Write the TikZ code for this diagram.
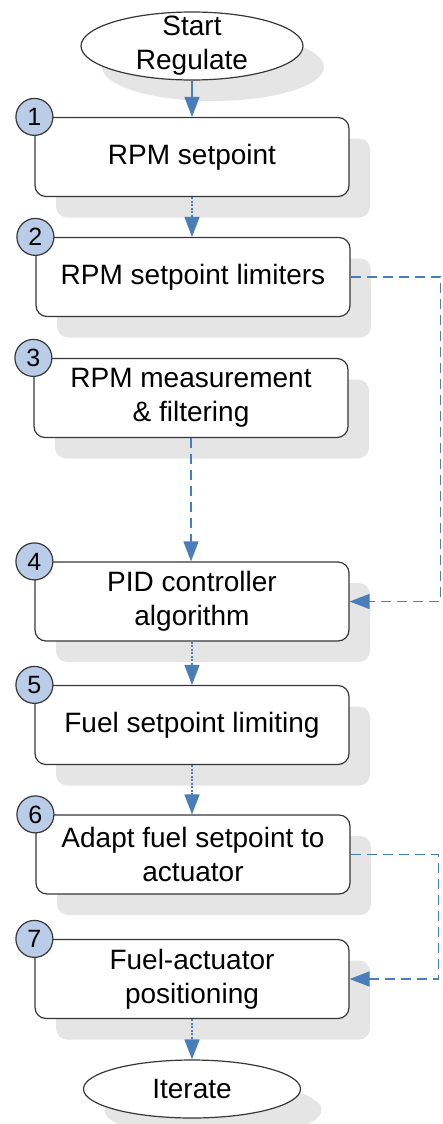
\documentclass[tikz,border=0pt]{standalone}
\usepackage{fontspec}
\setmainfont{Liberation Sans}
\usetikzlibrary{shapes.geometric,shadows,arrows.meta}

\definecolor{flowblue}{RGB}{74,126,187}
\definecolor{numblue}{RGB}{185,205,232}
\definecolor{boxline}{RGB}{55,55,55}

\begin{document}
\begin{tikzpicture}[x=1pt,y=-1pt,
	shade/.style={drop shadow={shadow xshift=21pt,shadow yshift=-21pt,fill=black!10,opacity=1}},
	stepbox/.style={shade,draw=boxline,line width=1.2pt,fill=white,rounded corners=11pt,
		minimum width=314pt,minimum height=79pt,inner sep=0pt,align=center,
		font=\fontsize{28}{34}\selectfont},
	term/.style={shade,ellipse,draw=boxline,line width=1.2pt,fill=white,inner sep=0pt},
	termtext/.style={align=center,font=\fontsize{28}{34}\selectfont},
	num/.style={circle,draw=boxline,line width=1.2pt,fill=numblue,minimum size=37pt,
		inner sep=0pt,font=\fontsize{25}{25}\selectfont},
	flow/.style={flowblue,line width=1.5pt,-{Triangle[length=20pt,width=15pt]}},
	dotflow/.style={flow,dash pattern=on 2pt off 1.5pt},
	dashflow/.style={flow,dash pattern=on 10pt off 6pt}]
	%%%%% START %%%%%
	\useasboundingbox (0,0) rectangle (443,1124);

	% terminals
	\node[term,minimum width=222pt,minimum height=68pt] (start) at (192,46) {};
	\node[termtext] (starttxt) at (start) {Start\\Regulate};
	\node[term,minimum width=217pt,minimum height=58pt] (iter) at (192,1089) {};
	\node[termtext] (itertxt) at (iter) {Iterate};

	% steps
	\node[stepbox] (b1) at (192,157) {RPM setpoint};
	\node[stepbox] (b2) at (193,277) {RPM setpoint limiters};
	\node[stepbox] (b3) at (191,398) {RPM measurement\\\& filtering};
	\node[stepbox] (b4) at (192,601.5) {PID controller\\algorithm};
	\node[stepbox] (b5) at (192,725) {Fuel setpoint limiting};
	\node[stepbox] (b6) at (193,854.5) {Adapt fuel setpoint to\\actuator};
	\node[stepbox] (b7) at (192,979) {Fuel-actuator\\positioning};

	% step numbers
	\foreach \i in {1,...,7}
		\node[num] (n\i) at (b\i.north west) {\i};

	% flow
	\draw[flow] (start) -- (b1);
	\draw[dotflow] (b1) -- (b2.north -| b1);
	\draw[dashflow] (b3) -- (b4.north -| b3);
	\draw[dotflow] (b4) -- (b5);
	\draw[dotflow] (b5) -- (b6.north -| b5);
	\draw[dotflow] (b7) -- (iter);

	% feedback
	\draw[dashflow] (b2.east) -- ++(90,0) |- (b4.east);
	\draw[dashflow] (b6.east) -- ++(88,0) |- (b7.east);
	%%%%% END %%%%%
\end{tikzpicture}
\end{document}
